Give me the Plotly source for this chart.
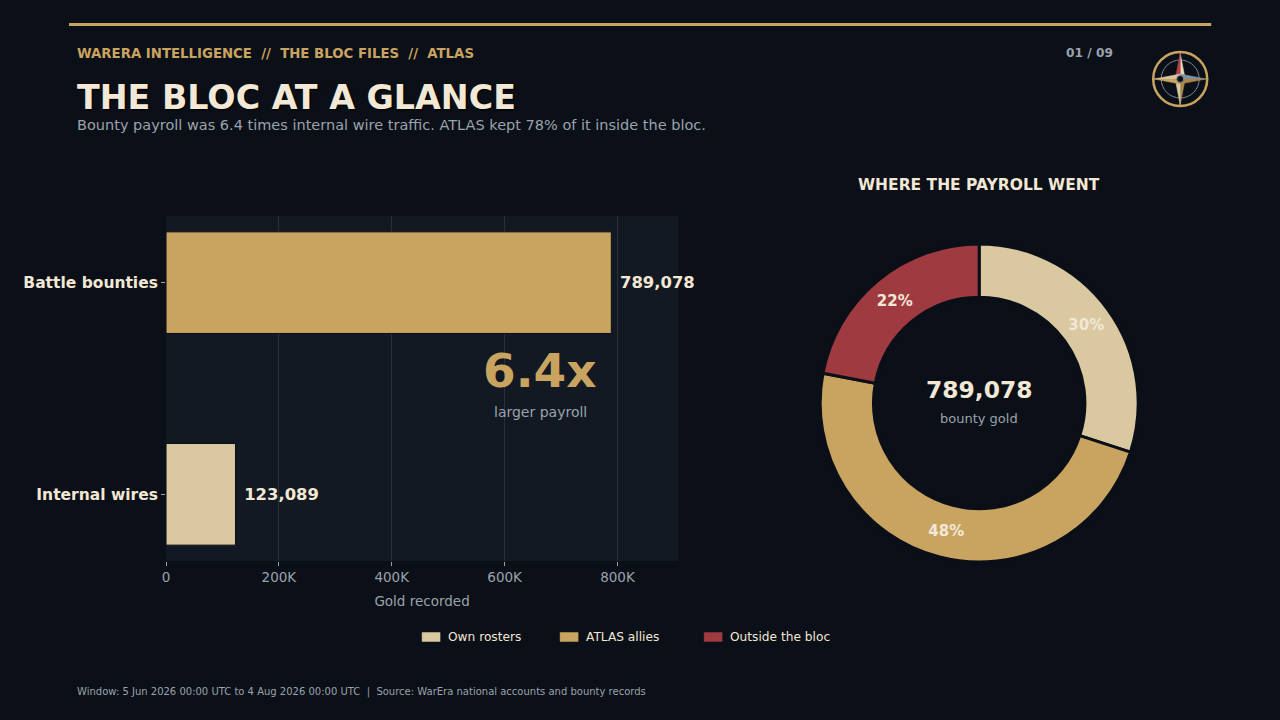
import plotly.graph_objects as go

# ---- data ----
bar_categories = ["Internal wires", "Battle bounties"]
bar_values = [123089, 789078]

split_labels = ["Own rosters", "ATLAS allies", "Outside the bloc"]
split_values = [236723, 378757, 173598]

x_tickvals = [0, 200000, 400000, 600000, 800000]
x_ticktext = ["0", "200K", "400K", "600K", "800K"]

# ---- palette ----
PAPER = "#0b0f17"
PLOT = "#121922"
GRID = "#26313c"
GOLD = "#c9a461"
BEIGE = "#d9c8a0"
RED = "#9e3a40"
CREAM = "#f2e8d5"
GREY = "#9aa3ad"
FONT = "DejaVu Sans"
split_colors = [BEIGE, GOLD, RED]


# screen pixel -> paper fraction (small correction for how the page is captured)
def px(x):
    return (x - 4) / 0.9967 / 1280


def py(y):
    return 1 - y / 720


fig = go.Figure()

fig.add_trace(go.Bar(
    x=bar_values, y=bar_categories, orientation="h",
    marker=dict(color=[BEIGE, GOLD], line=dict(color="#0b0f17", width=1)),
    width=0.48,
    text=[f"\u00a0{v:,}" for v in bar_values], textposition="outside",
    textfont=dict(family=FONT, size=16.4, color=CREAM, weight="bold"),
    cliponaxis=False, showlegend=False, hoverinfo="skip",
))

fig.add_trace(go.Pie(
    labels=split_labels, values=split_values, hole=0.665,
    sort=False, direction="clockwise", rotation=0,
    marker=dict(colors=split_colors, line=dict(color=PAPER, width=3)),
    texttemplate="%{percent:.0%}",
    textposition="inside", insidetextorientation="horizontal",
    textfont=dict(family=FONT, size=15, color=CREAM, weight="bold"),
    domain=dict(x=[px(820), px(1138)], y=[py(562), py(244)]),
    showlegend=False, hoverinfo="label+percent",
))

fig.update_layout(
    width=1280, height=720,
    paper_bgcolor=PAPER, plot_bgcolor=PLOT,
    margin=dict(l=0, r=0, t=0, b=0),
    font=dict(family=FONT, color=CREAM),
    xaxis=dict(
        domain=[px(166), px(678)], range=[0, max(bar_values) * 1.15],
        tickvals=x_tickvals, ticktext=x_ticktext,
        tickfont=dict(size=13.5, color=GREY),
        showgrid=True, gridcolor=GRID, gridwidth=1, zeroline=False,
        ticks="outside", ticklen=4, tickcolor=GREY,
        title=dict(text="Gold recorded", font=dict(size=13.5, color=GREY), standoff=12),
        fixedrange=True,
    ),
    yaxis=dict(
        domain=[py(561), py(216)], range=[-0.315, 1.315],
        tickfont=dict(size=15.5, color=CREAM, weight="bold"),
        ticks="outside", ticklen=4, tickcolor=GREY,
        showgrid=False, zeroline=False, fixedrange=True,
    ),
)

# ---- header / footer ----
fig.add_shape(type="line", xref="paper", yref="paper",
              x0=px(69), x1=px(1211), y0=py(24.5), y1=py(24.5),
              line=dict(color=GOLD, width=3))

notes = [
    dict(text="WARERA INTELLIGENCE  //  THE BLOC FILES  //  ATLAS", x=px(75), y=py(54),
         xanchor="left", font=dict(size=13.3, color=GOLD, weight="bold")),
    dict(text="THE BLOC AT A GLANCE", x=px(75), y=py(98), xanchor="left",
         font=dict(size=33.3, color=CREAM, weight="bold", shadow="1px 1px 2px #000")),
    dict(text="Bounty payroll was 6.4 times internal wire traffic. ATLAS kept 78% of it inside the bloc.",
         x=px(75), y=py(125), xanchor="left", font=dict(size=14.5, color=GREY)),
    dict(text="01 / 09", x=px(1115), y=py(53), xanchor="right",
         font=dict(size=12.2, color=GREY, weight="bold")),
    dict(text="Window: 5 Jun 2026 00:00 UTC to 4 Aug 2026 00:00 UTC  |  Source: WarEra national accounts and bounty records",
         x=px(75), y=py(691.5), xanchor="left", font=dict(size=10, color=GREY)),
    dict(text="WHERE THE PAYROLL WENT", x=px(979), y=py(185), xanchor="center",
         font=dict(size=15.5, color=CREAM, weight="bold")),
    dict(text=f"{bar_values[1] / bar_values[0]:.1f}x", x=px(540), y=py(371), xanchor="center",
         font=dict(size=47, color=GOLD, weight="bold")),
    dict(text="larger payroll", x=px(540), y=py(412), xanchor="center",
         font=dict(size=14, color=GREY)),
    dict(text=f"{sum(split_values):,}", x=px(979), y=py(390), xanchor="center",
         font=dict(size=23.4, color=CREAM, weight="bold")),
    dict(text="bounty gold", x=px(979), y=py(418), xanchor="center",
         font=dict(size=13, color=GREY)),
]
for n in notes:
    fig.add_annotation(xref="paper", yref="paper", yanchor="middle", showarrow=False, **n)

# ---- hand-made legend (wide swatches) ----
legend_x = [422, 560, 704]
for lx, lab, col in zip(legend_x, split_labels, split_colors):
    fig.add_shape(type="rect", xref="paper", yref="paper",
                  x0=px(lx), x1=px(lx + 18), y0=py(641.5), y1=py(632.5),
                  fillcolor=col, line=dict(color=col, width=0.5))
    fig.add_annotation(xref="paper", yref="paper", x=px(lx + 24), y=py(637), text=lab,
                       xanchor="left", yanchor="middle", showarrow=False,
                       font=dict(size=12.2, color=CREAM))

# ---- compass badge ----
cx, cy = 1180, 79


def star_path(pts):
    return "M " + " L ".join(f"{px(x)},{py(y)}" for x, y in pts) + " Z"


fig.add_shape(type="circle", xref="paper", yref="paper",
              x0=px(cx - 27), x1=px(cx + 27), y0=py(cy + 27), y1=py(cy - 27),
              line=dict(color=GOLD, width=2.5))
fig.add_shape(type="circle", xref="paper", yref="paper",
              x0=px(cx - 19), x1=px(cx + 19), y0=py(cy + 19), y1=py(cy - 19),
              line=dict(color="#7d8793", width=1))
w = 5
points = [
    ([(cx, cy - 26), (cx + w, cy), (cx, cy)], "#e8d9b8"),
    ([(cx, cy - 26), (cx - w, cy), (cx, cy)], "#b5434a"),
    ([(cx, cy + 26), (cx + w, cy), (cx, cy)], "#a8864c"),
    ([(cx, cy + 26), (cx - w, cy), (cx, cy)], BEIGE),
    ([(cx + 26, cy), (cx, cy - w), (cx, cy)], "#7f93a8"),
    ([(cx + 26, cy), (cx, cy + w), (cx, cy)], "#a8864c"),
    ([(cx - 26, cy), (cx, cy - w), (cx, cy)], BEIGE),
    ([(cx - 26, cy), (cx, cy + w), (cx, cy)], GOLD),
]
for pts, col in points:
    fig.add_shape(type="path", xref="paper", yref="paper", path=star_path(pts),
                  fillcolor=col, line=dict(color=col, width=0.5))
fig.add_shape(type="circle", xref="paper", yref="paper",
              x0=px(cx - 3.5), x1=px(cx + 3.5), y0=py(cy + 3.5), y1=py(cy - 3.5),
              fillcolor=PAPER, line=dict(color="#7d8793", width=1))

fig.write_html(
    "out.html",
    config={"displayModeBar": False},
    post_script="document.body.style.margin='0';document.body.style.background='#0b0f17';"
                "document.documentElement.style.overflow='hidden';",
)
